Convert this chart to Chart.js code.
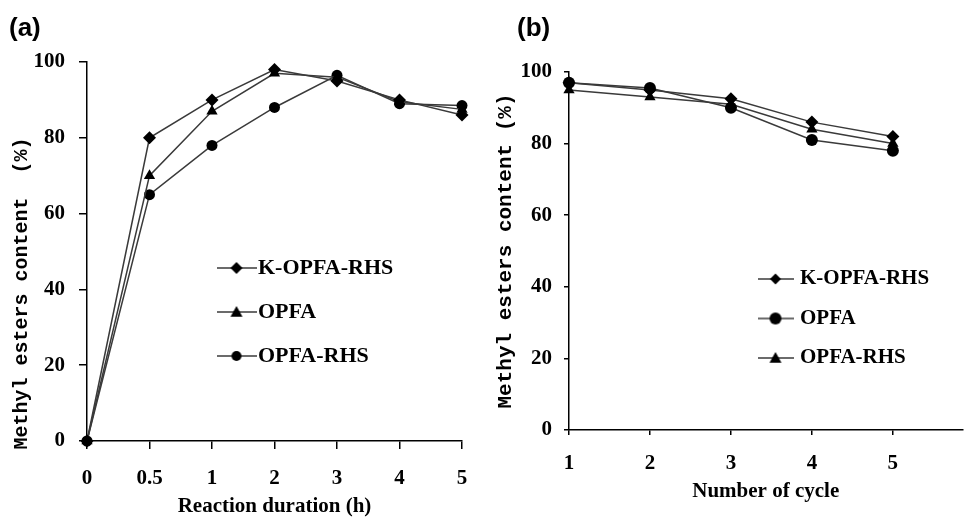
<!DOCTYPE html>
<html>
<head>
    <title>Methyl esters content</title>
    <script src="https://cdn.jsdelivr.net/npm/chart.js@4.4.0/dist/chart.umd.min.js"></script>
    <style>
        body {
            margin: 0;
            background-color: white;
            overflow: hidden;
        }
        .panel {
            position: absolute;
            top: 0;
            height: 519px;
        }
        .tag {
            position: absolute;
            top: 12px;
            font-family: "Liberation Sans", Arial, sans-serif;
            font-weight: bold;
            font-size: 26px;
            color: #000;
        }
    </style>
</head>
<body>
    <div class="panel" style="left:0;width:480px;"><canvas id="chartA" width="480" height="519"></canvas></div>
    <div class="panel" style="left:480px;width:489px;"><canvas id="chartB" width="489" height="519"></canvas></div>
    <div class="tag" style="left:9px;">(a)</div>
    <div class="tag" style="left:517px;">(b)</div>

    <script>
    // panel (a): reaction duration
    const durationLabels = ['0', '0.5', '1', '2', '3', '4', '5'];
    const kOpfaRhsA = [0, 80, 90, 98, 95, 90, 86];
    const opfaA = [0, 70, 87, 97, 96, 89.5, 87.5];
    const opfaRhsA = [0, 65, 78, 88, 96.5, 89, 88.5];

    // panel (b): reuse cycles
    const cycles = [1, 2, 3, 4, 5];
    const kOpfaRhsB = [97, 95, 92.5, 86, 82];
    const opfaB = [97, 95.5, 90, 81, 78];
    const opfaRhsB = [95, 93, 91, 84, 80];

    const yTicks = [0, 20, 40, 60, 80, 100];

    const lineColor = '#3a3a3a';
    const serif = '"Liberation Serif", "Times New Roman", serif';
    const mono = '"Liberation Mono", "Courier New", monospace';

    // small legend icon: line with marker in the middle
    function makeIcon(style, w, r) {
        const c = document.createElement('canvas');
        c.width = w;
        c.height = 18;
        const g = c.getContext('2d');
        const cx = w / 2, cy = 9;
        g.strokeStyle = lineColor;
        g.lineWidth = 1.5;
        g.beginPath();
        g.moveTo(0, cy);
        g.lineTo(w, cy);
        g.stroke();
        g.fillStyle = '#000';
        g.beginPath();
        if (style === 'rectRot') {
            g.moveTo(cx, cy - r); g.lineTo(cx + r, cy); g.lineTo(cx, cy + r); g.lineTo(cx - r, cy);
        } else if (style === 'triangle') {
            g.moveTo(cx, cy - r); g.lineTo(cx + r, cy + r * 0.8); g.lineTo(cx - r, cy + r * 0.8);
        } else {
            g.arc(cx, cy, r, 0, Math.PI * 2);
        }
        g.closePath();
        g.fill();
        return c;
    }

    // put the legend where it sits in the picture
    const legendPlace = {
        id: 'legendPlace',
        afterLayout(chart, args, opts) {
            const lg = chart.legend;
            lg.left = opts.x;
            lg.top = opts.y;
            lg.right = opts.x + 300;
            lg.bottom = opts.y + 250;
        }
    };

    function series(label, data, style, radius) {
        return {
            label: label,
            data: data,
            borderColor: lineColor,
            borderWidth: 1.5,
            pointStyle: style,
            pointRadius: radius,
            pointHoverRadius: radius,
            pointBackgroundColor: '#000',
            pointBorderColor: '#000',
            pointBorderWidth: 0,
            tension: 0,
            clip: false
        };
    }

    function yAxis(width, tickLen, pad, titleFont, titlePad, titleText) {
        return {
            min: 0,
            max: 100,
            afterBuildTicks: s => { s.ticks = yTicks.map(v => ({ value: v })); },
            afterFit: s => { s.width = width; s.paddingTop = 0; s.paddingBottom = 0; },
            grid: { drawOnChartArea: false, tickLength: tickLen, color: '#000', lineWidth: 1.5 },
            border: { color: '#000', width: 1.5 },
            ticks: { color: '#000', padding: pad, font: { family: serif, size: 21, weight: 'bold' } },
            title: { display: true, text: titleText, color: '#000', padding: { top: titlePad, bottom: 0 },
                     font: { family: mono, size: titleFont, weight: 'bold' } }
        };
    }

    function legendOpts(font, pad, boxW, icons) {
        return {
            position: 'chartArea',
            align: 'start',
            labels: {
                usePointStyle: true,
                pointStyleWidth: boxW,
                padding: pad,
                color: '#000',
                font: { family: serif, size: font, weight: 'bold' },
                generateLabels: chart => {
                    const items = Chart.defaults.plugins.legend.labels.generateLabels(chart);
                    items.forEach((it, i) => { it.pointStyle = icons[i]; });
                    return items;
                }
            }
        };
    }

    const chartA = new Chart(document.getElementById('chartA'), {
        type: 'line',
        data: {
            labels: durationLabels,
            datasets: [
                series('K-OPFA-RHS', kOpfaRhsA, 'rectRot', 6.5),
                series('OPFA', opfaA, 'triangle', 6.5),
                series('OPFA-RHS', opfaRhsA, 'circle', 5.5)
            ]
        },
        options: {
            responsive: false,
            animation: false,
            layout: { padding: { left: 0, top: 62, right: 18, bottom: 0 } },
            scales: {
                x: {
                    offset: false,
                    afterFit: s => { s.height = 78; s.paddingLeft = 0; s.paddingRight = 0; },
                    grid: { drawOnChartArea: false, offset: false, tickLength: 8, color: '#000', lineWidth: 1.5 },
                    border: { color: '#000', width: 1.5 },
                    ticks: { color: '#000', padding: 17, maxRotation: 0, font: { family: serif, size: 21, weight: 'bold' } },
                    title: { display: true, text: 'Reaction duration (h)', color: '#000', padding: { top: 0, bottom: 0 },
                             font: { family: serif, size: 21, weight: 'bold' } }
                },
                y: yAxis(87, 8, 14, 20, 10, 'Methyl esters content  (%)       ')
            },
            plugins: {
                legend: legendOpts(22, 22, 21, [
                    makeIcon('rectRot', 40, 6), makeIcon('triangle', 40, 6), makeIcon('circle', 40, 5)
                ]),
                legendPlace: { x: 204, y: 235 },
                tooltip: { enabled: false }
            }
        },
        plugins: [legendPlace]
    });

    const chartB = new Chart(document.getElementById('chartB'), {
        type: 'line',
        data: {
            datasets: [
                series('K-OPFA-RHS', cycles.map((c, i) => ({ x: c, y: kOpfaRhsB[i] })), 'rectRot', 6.5),
                series('OPFA', cycles.map((c, i) => ({ x: c, y: opfaB[i] })), 'circle', 6),
                series('OPFA-RHS', cycles.map((c, i) => ({ x: c, y: opfaRhsB[i] })), 'triangle', 6.5)
            ]
        },
        options: {
            responsive: false,
            animation: false,
            layout: { padding: { left: 0, top: 72, right: 0, bottom: 0 } },
            scales: {
                x: {
                    type: 'linear',
                    min: 1,
                    max: 5.86,
                    afterBuildTicks: s => { s.ticks = cycles.map(v => ({ value: v })); },
                    afterFit: s => { s.height = 89; s.paddingLeft = 0; s.paddingRight = 0; },
                    grid: { drawOnChartArea: false, tickLength: 5, color: '#000', lineWidth: 1.5 },
                    border: { color: '#000', width: 1.5 },
                    ticks: { color: '#000', padding: 16, maxRotation: 0, font: { family: serif, size: 21, weight: 'bold' } },
                    title: { display: true, text: 'Number of cycle', color: '#000', padding: { top: 0, bottom: 15 },
                             font: { family: serif, size: 21, weight: 'bold' } }
                },
                y: yAxis(89, 5, 12, 21, 13, 'Methyl esters content (%)')
            },
            plugins: {
                legend: legendOpts(21, 18.5, 28, [
                    makeIcon('rectRot', 36, 5.5), makeIcon('circle', 36, 6), makeIcon('triangle', 36, 6)
                ]),
                legendPlace: { x: 263, y: 250 },
                tooltip: { enabled: false }
            }
        },
        plugins: [legendPlace]
    });
    </script>
</body>
</html>
